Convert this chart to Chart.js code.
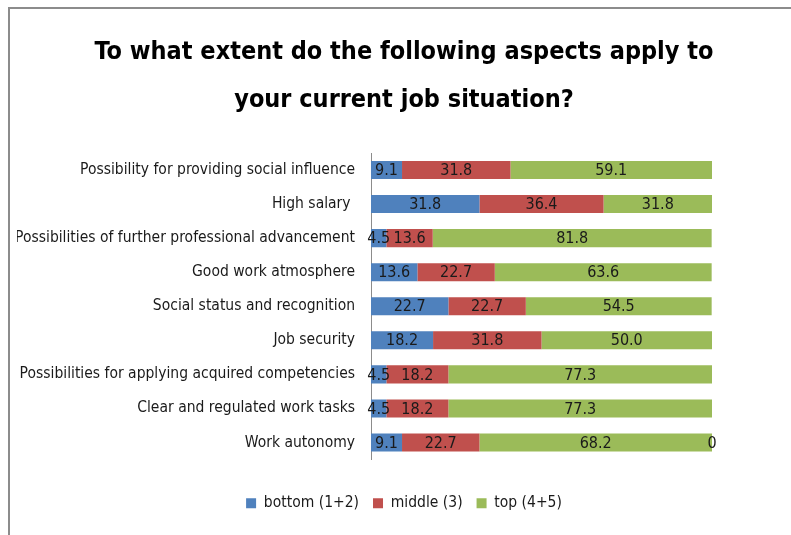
<!DOCTYPE html>
<html>
<head>
<meta charset="utf-8">
<script src="https://cdn.jsdelivr.net/npm/chart.js@4/dist/chart.umd.min.js"></script>
<style>
  html, body { margin: 0; padding: 0; background: #fff; overflow: hidden; }
  #wrap { position: relative; width: 791px; height: 535px; }
  #frame { position: absolute; left: 8px; top: 7px; width: 800px; height: 600px;
           border-left: 2px solid #8c8c8c; border-top: 2px solid #8c8c8c; }
  canvas { position: absolute; left: 0; top: 0; }
</style>
</head>
<body>
<div id="wrap">
  <div id="frame"></div>
  <canvas id="chart" width="791" height="535"></canvas>
</div>
<script>
var categories = [
    'Possibility for providing social influence',
    'High salary ',
    'Possibilities of further professional advancement',
    'Good work atmosphere',
    'Social status and recognition',
    'Job security',
    'Possibilities for applying acquired competencies',
    'Clear and regulated work tasks',
    'Work autonomy'
];
var bottomValues = [9.1, 31.8, 4.5, 13.6, 22.7, 18.2, 4.5, 4.5, 9.1];
var middleValues = [31.8, 36.4, 13.6, 22.7, 22.7, 31.8, 18.2, 18.2, 22.7];
var topValues    = [59.1, 31.8, 81.8, 63.6, 54.5, 50.0, 77.3, 77.3, 68.2];
// stray zero label shown at the end of the last row, not in the legend
var restValues   = [null, null, null, null, null, null, null, null, 0];

var font = "'DejaVu Sans Condensed', 'Open Sans', sans-serif";

// draws the value in the middle of each bar segment
var barLabels = {
    id: 'barLabels',
    afterDatasetsDraw: function(chart) {
        var ctx = chart.ctx;
        ctx.save();
        ctx.font = '16px ' + font;
        ctx.fillStyle = '#1a1a1a';
        ctx.textAlign = 'center';
        ctx.textBaseline = 'middle';
        chart.data.datasets.forEach(function(ds, i) {
            var meta = chart.getDatasetMeta(i);
            meta.data.forEach(function(bar, j) {
                var v = ds.data[j];
                if (v === null || v === undefined) return;
                var p = bar.getProps(['x', 'y', 'base'], true);
                var txt = v === 0 ? '0' : v.toFixed(1);
                ctx.fillText(txt, (p.x + p.base) / 2, p.y + 1);
            });
        });
        ctx.restore();
    }
};

var chart = new Chart(document.getElementById('chart'), {
    type: 'bar',
    data: {
        labels: categories,
        datasets: [{
            label: 'bottom (1+2)',
            data: bottomValues,
            backgroundColor: '#4f81bd'
        }, {
            label: 'middle (3)',
            data: middleValues,
            backgroundColor: '#c0504d'
        }, {
            label: 'top (4+5)',
            data: topValues,
            backgroundColor: '#9bbb59'
        }, {
            label: 'rest',
            data: restValues,
            backgroundColor: '#8064a2'
        }]
    },
    plugins: [barLabels],
    options: {
        indexAxis: 'y',
        responsive: false,
        animation: false,
        barPercentage: 0.53,
        categoryPercentage: 1,
        layout: { padding: { left: 17, right: 0, top: 0, bottom: 14 } },
        scales: {
            x: {
                stacked: true,
                min: 0,
                max: 100,
                grid: { display: false },
                border: { display: false },
                ticks: { display: false },
                afterFit: function(scale) { scale.height = 22; }
            },
            y: {
                stacked: true,
                grid: { display: false, drawTicks: false },
                border: { display: true, color: '#8c8c8c', width: 1 },
                ticks: { color: '#1a1a1a', padding: 16, font: { family: font, size: 15.5 } },
                afterFit: function(scale) { scale.width = 354; }
            },
            // empty axis on the right, only keeps the plot short of the frame edge
            yRight: {
                type: 'category',
                position: 'right',
                grid: { display: false, drawTicks: false },
                border: { display: false },
                ticks: { display: false },
                afterFit: function(scale) { scale.width = 79; }
            }
        },
        plugins: {
            title: {
                display: true,
                text: ['To what extent do the following aspects apply to', 'your current job situation?'],
                color: '#000',
                font: { family: font, size: 25, weight: 'bold', lineHeight: '48px' },
                padding: { top: 28, bottom: 29 }
            },
            legend: {
                position: 'bottom',
                labels: {
                    color: '#1a1a1a',
                    boxWidth: 10,
                    boxHeight: 10,
                    padding: 14,
                    font: { family: font, size: 15.5 },
                    filter: function(item) { return item.datasetIndex < 3; }
                }
            },
            tooltip: { enabled: false }
        }
    }
});
</script>
</body>
</html>
